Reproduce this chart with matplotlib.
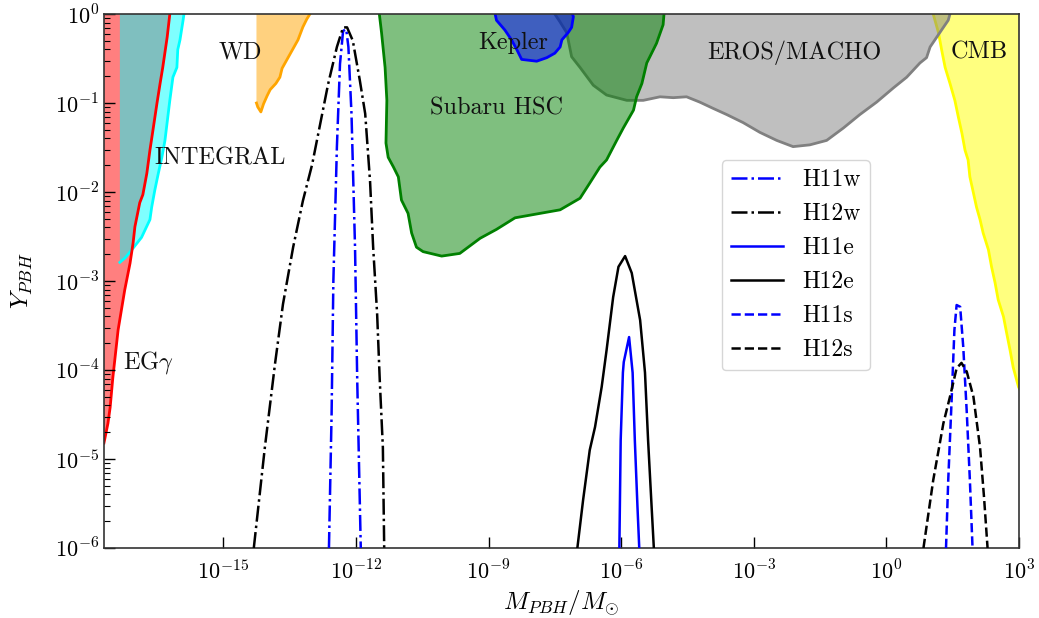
import numpy as np
import matplotlib
matplotlib.use("Agg")
import matplotlib.pyplot as plt
from matplotlib.ticker import FixedLocator, FuncFormatter, LogLocator, NullLocator

plt.rcParams['font.family'] = 'serif'
plt.rcParams['font.serif'] = ['cmr10']
plt.rcParams['mathtext.fontset'] = 'cm'
plt.rcParams['axes.formatter.use_mathtext'] = True

# ---------------- data (log10 values) ----------------
# PBH mass-fraction curves
h12w_logM = [-14.31, -14.06, -13.83, -13.65, -13.42, -13.20, -12.99, -12.81, -12.63, -12.43,
             -12.29, -12.20, -12.07, -11.91, -11.79, -11.68, -11.61, -11.52, -11.46, -11.39, -11.36]
h12w_logY = [-6.0, -4.87, -3.93, -3.26, -2.62, -2.10, -1.69, -1.24, -0.79, -0.37,
             -0.15, -0.15, -0.30, -0.75, -1.12, -1.88, -2.62, -3.37, -4.12, -4.87, -6.0]

h11w_logM = [-12.61, -12.55, -12.51, -12.43, -12.36, -12.29, -12.22, -12.17, -12.10, -12.02, -11.97, -11.89]
h11w_logY = [-6.0, -4.49, -3.0, -1.49, -0.56, -0.19, -0.17, -0.37, -1.12, -2.62, -4.12, -6.0]

h12e_logM = [-6.99, -6.86, -6.71, -6.59, -6.44, -6.33, -6.18, -6.06, -5.91, -5.76, -5.57, -5.46, -5.39, -5.31, -5.26]
h12e_logY = [-6.0, -5.46, -4.90, -4.64, -4.19, -3.78, -3.18, -2.84, -2.72, -2.91, -3.44, -4.03, -4.79, -5.54, -6.0]

h11e_logM = [-6.04, -6.01, -5.96, -5.94, -5.82, -5.74, -5.69, -5.63, -5.59]
h11e_logY = [-6.0, -4.79, -4.03, -3.91, -3.63, -4.03, -4.79, -5.54, -6.0]

h11s_logM = [1.35, 1.40, 1.48, 1.54, 1.59, 1.67, 1.74, 1.82, 1.89, 1.95]
h11s_logY = [-6.0, -5.24, -4.30, -3.55, -3.27, -3.29, -3.74, -4.48, -5.24, -6.0]

h12s_logM = [0.84, 1.06, 1.29, 1.44, 1.59, 1.70, 1.82, 1.97, 2.12, 2.21, 2.29]
h12s_logY = [-6.0, -5.24, -4.60, -4.30, -3.98, -3.92, -4.02, -4.30, -4.87, -5.43, -6.0]

# Constraint boundaries
eg_logM = [-17.70, -17.61, -17.56, -17.50, -17.38, -17.23, -17.11, -17.04, -17.00, -16.89,
           -16.82, -16.73, -16.66, -16.59, -16.50, -16.43, -16.37, -16.27, -16.21]
eg_logY = [-4.82, -4.60, -4.42, -4.09, -3.55, -3.10, -2.80, -2.57, -2.39, -2.12,
           -2.03, -1.79, -1.53, -1.30, -1.00, -0.78, -0.60, -0.26, 0.0]

integral_logM = [-17.34, -17.22, -17.04, -16.85, -16.66, -16.62, -16.55, -16.47, -16.39,
                 -16.32, -16.21, -16.14, -16.05, -16.03, -15.98, -15.91, -15.89]
integral_logY = [-2.79, -2.74, -2.63, -2.51, -2.31, -2.17, -1.98, -1.79, -1.61,
                 -1.42, -0.97, -0.71, -0.60, -0.40, -0.29, -0.07, 0.0]

wd_logM = [-14.25, -14.22, -14.15, -14.09, -14.01, -13.94, -13.81, -13.72, -13.67, -13.58,
           -13.49, -13.40, -13.31, -13.20, -13.11, -13.04]
wd_logY = [-1.0, -1.045, -1.10, -1.01, -0.92, -0.85, -0.78, -0.71, -0.61, -0.53,
           -0.45, -0.37, -0.29, -0.146, -0.056, 0.0]

hsc_logM = [-11.47, -11.42, -11.34, -11.30, -11.32, -11.27, -11.15, -11.04, -10.97, -10.82,
            -10.74, -10.63, -10.48, -10.06, -9.65, -9.19, -8.82, -8.40, -8.06, -7.38,
            -6.93, -6.71, -6.48, -6.33, -6.10, -5.95, -5.72, -5.65, -5.53, -5.42, -5.20, -5.05, -5.03]
hsc_logY = [0.0, -0.21, -0.60, -0.97, -1.45, -1.61, -1.72, -1.83, -2.09, -2.24,
            -2.46, -2.62, -2.67, -2.72, -2.69, -2.52, -2.42, -2.29, -2.26, -2.20,
            -2.07, -1.90, -1.72, -1.64, -1.42, -1.28, -1.08, -0.93, -0.78, -0.55, -0.33, -0.12, 0.0]

kepler_logM = [-8.85, -8.82, -8.63, -8.48, -8.36, -8.25, -7.91, -7.68, -7.50, -7.38,
               -7.34, -7.20, -7.12, -7.08, -7.10]
kepler_logY = [0.0, -0.07, -0.18, -0.29, -0.40, -0.51, -0.53, -0.49, -0.44, -0.37,
               -0.29, -0.21, -0.15, -0.03, 0.0]

eros_logM = [-7.50, -7.38, -7.23, -7.12, -6.93, -6.63, -6.33, -5.87, -5.50, -5.12, -4.82,
             -4.52, -4.22, -3.92, -3.61, -3.24, -2.86, -2.48, -2.11, -1.73, -1.35, -0.97,
             -0.60, -0.22, 0.16, 0.46, 0.76, 0.91, 0.99, 1.14, 1.29, 1.40, 1.44]
eros_logY = [0.0, -0.09, -0.21, -0.48, -0.60, -0.80, -0.91, -0.97, -0.97, -0.93, -0.94,
             -0.93, -0.99, -1.06, -1.13, -1.22, -1.33, -1.42, -1.49, -1.47, -1.42, -1.28,
             -1.13, -0.99, -0.83, -0.71, -0.55, -0.49, -0.37, -0.26, -0.15, -0.07, 0.0]

cmb_logM = [1.06, 1.18, 1.25, 1.33, 1.44, 1.55, 1.63, 1.71, 1.78, 1.85, 1.89, 1.97, 2.04,
            2.12, 2.19, 2.31, 2.38, 2.46, 2.53, 2.65, 2.72, 2.80, 2.87, 2.99]
cmb_logY = [0.0, -0.21, -0.40, -0.60, -0.78, -0.97, -1.16, -1.34, -1.53, -1.64, -1.83, -2.01,
            -2.17, -2.31, -2.46, -2.65, -2.84, -3.02, -3.21, -3.40, -3.58, -3.78, -3.97, -4.19]

region_labels = ["WD", "INTEGRAL", r"EG$\gamma$", "Kepler", "Subaru HSC", "EROS/MACHO", "CMB"]
label_logM = [-14.62, -15.08, -16.69, -8.45, -8.82, -2.09, 2.11]
label_logY = [-0.43, -1.62, -3.92, -0.33, -1.06, -0.43, -0.43]

xticks_exp = [-15, -12, -9, -6, -3, 0, 3]
yticks_exp = [0, -1, -2, -3, -4, -5, -6]

XMIN, XMAX = 2e-18, 1e3
YMIN, YMAX = 1e-6, 1e0


def p(a):
    return 10.0 ** np.asarray(a, dtype=float)


fig = plt.figure(figsize=(10.39, 6.18), dpi=100)
ax = fig.add_axes([0.1001, 0.1133, 0.8806, 0.8640])
ax.set_xscale('log')
ax.set_yscale('log')

# EG gamma (left of red line)
xm, ym = p(eg_logM), p(eg_logY)
ax.fill(np.r_[1e-20, xm, xm[-1], 1e-20], np.r_[ym[0], ym, 10, 10], color='red', alpha=0.5, lw=0, zorder=1)
# INTEGRAL
xm, ym = p(integral_logM), p(integral_logY)
ax.fill(np.r_[xm, xm[0]], np.r_[ym, 1.0], color='cyan', alpha=0.5, lw=0, zorder=1.1)
ax.plot(xm, ym, color='cyan', lw=2, zorder=1.2)
ax.plot(p(eg_logM), p(eg_logY), color='red', lw=2, zorder=1.3)
# WD
xm, ym = p(wd_logM), p(wd_logY)
ax.fill(np.r_[xm, xm[0]], np.r_[ym, 1.0], color='orange', alpha=0.5, lw=0, zorder=1)
ax.plot(xm, ym, color='orange', lw=2, zorder=1.2)
# CMB
xm, ym = p(cmb_logM), p(cmb_logY)
ax.fill(np.r_[xm, 1e4, 1e4], np.r_[ym, ym[-1], 1.0], color='yellow', alpha=0.5, lw=0, zorder=1)
ax.plot(np.r_[xm, 1.05e3], np.r_[ym, 10 ** -4.22], color='yellow', lw=2, zorder=1.05)
# EROS/MACHO
xm, ym = p(eros_logM), p(eros_logY)
ax.fill(xm, ym, color='gray', alpha=0.5, lw=0, zorder=1.1)
ax.plot(xm, ym, color='gray', lw=2, zorder=1.15)
# Subaru HSC
xm, ym = p(hsc_logM), p(hsc_logY)
ax.fill(xm, ym, color='green', alpha=0.5, lw=0, zorder=1.2)
ax.plot(xm, ym, color='green', lw=2, zorder=1.25)
# Kepler
xm, ym = p(kepler_logM), p(kepler_logY)
ax.fill(xm, ym, color='blue', alpha=0.5, lw=0, zorder=1.3)
ax.plot(xm, ym, color='blue', lw=2, zorder=1.35)

for lab, lm, ly in zip(region_labels, label_logM, label_logY):
    ax.text(10 ** lm, 10 ** ly, lab, ha='center', va='center', fontsize=17.5, color='#111111', zorder=3)

# Curves
lw = 1.8
ax.plot(p(h11w_logM), p(h11w_logY), color='blue', ls='-.', lw=lw, label='H11w', zorder=4)
ax.plot(p(h12w_logM), p(h12w_logY), color='black', ls='-.', lw=lw, label='H12w', zorder=4)
ax.plot(p(h11e_logM), p(h11e_logY), color='blue', ls='-', lw=lw, label='H11e', zorder=4)
ax.plot(p(h12e_logM), p(h12e_logY), color='black', ls='-', lw=lw, label='H12e', zorder=4)
ax.plot(p(h11s_logM), p(h11s_logY), color='blue', ls='--', lw=lw, label='H11s', zorder=4)
ax.plot(p(h12s_logM), p(h12s_logY), color='black', ls='--', lw=lw, label='H12s', zorder=4)

ax.set_xlim(XMIN, XMAX)
ax.set_ylim(YMIN, YMAX)

ax.xaxis.set_major_locator(FixedLocator([10.0 ** e for e in xticks_exp]))
ax.xaxis.set_minor_locator(NullLocator())
ax.yaxis.set_major_locator(FixedLocator([10.0 ** e for e in yticks_exp]))
ax.yaxis.set_minor_locator(LogLocator(base=10, subs=np.arange(2, 10), numticks=50))
fmt = FuncFormatter(lambda v, pos: r'$10^{%d}$' % int(round(np.log10(v))))
ax.xaxis.set_major_formatter(fmt)
ax.yaxis.set_major_formatter(fmt)
ax.tick_params(which='both', direction='in', top=False, right=False, labelsize=16)
ax.tick_params(which='major', length=8, width=1)
ax.tick_params(which='minor', length=4, width=0.8)
ax.tick_params(axis='x', pad=8)
for s in ax.spines.values():
    s.set_color('#333333')
    s.set_linewidth(1.2)

ax.set_xlabel(r'$M_{PBH}/M_{\odot}$', fontsize=18, labelpad=4)
ax.set_ylabel(r'$Y_{PBH}$', fontsize=18, labelpad=14)

leg = ax.legend(loc='upper left', bbox_to_anchor=(0.675, 0.727), borderaxespad=0,
                fontsize=17, handlelength=2.2, labelspacing=0.5, frameon=True, fancybox=True)
leg.set_zorder(5)

fig.savefig('out.png', dpi=100)
